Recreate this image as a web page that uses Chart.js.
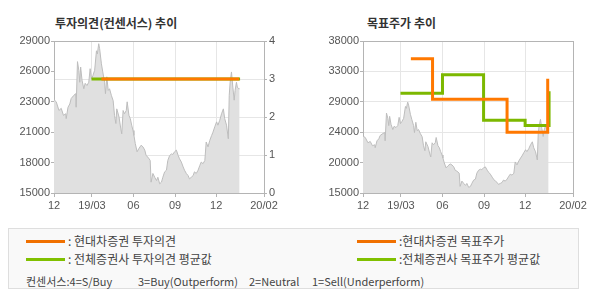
<!DOCTYPE html>
<html>
<head>
<meta charset="utf-8">
<script src="https://cdn.jsdelivr.net/npm/chart.js@4.4.0/dist/chart.umd.min.js"></script>
<style>
    body { margin: 0; width: 590px; height: 300px; position: relative; overflow: hidden; background: #fff;
           font-family: "Noto Sans CJK KR", "Liberation Sans", sans-serif; }
    .title { position: absolute; top: 14px; font-size: 12px; font-weight: bold; color: #333; }
    canvas { position: absolute; top: 28px; }
    #legendBox { position: absolute; left: 8px; top: 228px; width: 569px; height: 59px;
                 border: 1px solid #dedede; background: #f9f9f9; }
    .item { position: absolute; font-size: 12px; color: #444; line-height: 14px; white-space: pre; }
    .note { position: absolute; top: 45px; font-size: 11px; color: #444; line-height: 14px; white-space: pre; }
    .swatch { position: absolute; width: 39px; height: 3px; }
</style>
</head>
<body>

<div class="title" style="left:55px">투자의견(컨센서스) 추이</div>
<div class="title" style="left:367px">목표주가 추이</div>

<canvas id="opinionChart" width="295" height="190" style="left:0"></canvas>
<canvas id="targetChart" width="295" height="190" style="left:295px"></canvas>

<div id="legendBox">
    <div class="swatch" style="left:17px;top:11px;background:#f07000"></div>
    <div class="item" style="left:59px;top:5px">: 현대차증권 투자의견</div>
    <div class="swatch" style="left:17px;top:29px;background:#80c000"></div>
    <div class="item" style="left:59px;top:23px">: 전체증권사 투자의견 평균값</div>
    <div class="swatch" style="left:348px;top:11px;background:#f07000"></div>
    <div class="item" style="left:390px;top:5px">:현대차증권 목표주가</div>
    <div class="swatch" style="left:348px;top:29px;background:#80c000"></div>
    <div class="item" style="left:390px;top:23px">:전체증권사 목표주가 평균값</div>
    <div class="note" style="left:17px">컨센서스:4=S/Buy</div>
    <div class="note" style="left:129px">3=Buy(Outperform)</div>
    <div class="note" style="left:240px">2=Neutral</div>
    <div class="note" style="left:303px">1=Sell(Underperform)</div>
</div>

<script>
// ========================================
// Data (x = days since 2018-12-07)
// ========================================
const xTickDays = [0, 84, 176, 268, 359, 465];
const xTickLabels = ['12', '19/03', '06', '09', '12', '20/02'];

const priceDays = [0, 5, 11, 16, 21, 26, 27, 31, 35, 38, 44, 48, 49, 52, 55, 57, 59, 62, 66, 69,
    73, 77, 80, 83, 86, 90, 94, 96, 99, 101, 105, 108, 112, 114, 117, 120, 123, 127, 131, 134,
    137, 139, 144, 148, 150, 153, 156, 160, 162, 166, 169, 172, 175, 177, 180, 184, 188, 193, 197, 201,
    204, 208, 213, 215, 219, 223, 227, 230, 234, 238, 241, 245, 249, 252, 256, 260, 263, 267, 271, 275,
    278, 282, 286, 289, 293, 297, 300, 304, 308, 311, 315, 319, 323, 326, 330, 334, 337, 341, 345, 349,
    352, 356, 360, 363, 367, 371, 375, 378, 382, 386, 388, 390, 393, 396, 399, 401, 404, 406, 409, 411];
const priceValues = [23600, 23400, 22600, 22800, 22150, 22300, 21850, 22900, 23200, 23700, 24000, 24150, 22900, 27100, 26300, 25200, 26600, 25400, 24600, 25100,
    24900, 25200, 26450, 25500, 25800, 26300, 28100, 27800, 28750, 28300, 26900, 26150, 25200, 24150, 25700, 24450, 24600, 24000, 23500, 22150,
    21400, 22750, 22000, 20900, 20450, 22600, 22300, 22600, 23400, 22150, 21850, 21250, 20750, 20300, 19550, 18800, 19100, 19400, 19250, 18950,
    18450, 18300, 18000, 16000, 16800, 16450, 16150, 16450, 15850, 16000, 16450, 16950, 17100, 18000, 18450, 18600, 18550, 18800, 18950, 18450,
    18150, 17850, 17400, 17100, 16800, 16600, 16300, 16450, 16600, 16950, 16800, 17100, 17550, 17850, 17700, 18000, 19700, 19250, 19850, 20300,
    20600, 21100, 21550, 21250, 21700, 22300, 22750, 21850, 21250, 20000, 24000, 25200, 26150, 24750, 23550, 24450, 25200, 24750, 24600, 24600];

// investment opinion (consensus scale 0-4)
const opinionDays = [105, 410];
const opinionValues = [3, 3];
const avgOpinionDays = [83, 412];
const avgOpinionValues = [3, 3];

// target price steps
const targetDays = [106, 154, 319, 409];
const targetValues = [35300, 29200, 24200, 32300];
const avgTargetDays = [83, 176, 267, 359, 412];
const avgTargetValues = [30100, 32900, 26000, 25200, 30400];

const ORANGE = '#ff7800';
const GREEN = '#7cb800';
const GRID = '#e6e6e6';
const EDGE = '#b4b4b4';
const LABEL = '#555';

const TICK_FONT = { family: '"Liberation Sans", Arial, sans-serif', size: 11 };

// ========================================
// Helpers
// ========================================
const toPoints = (xs, ys) => xs.map((x, i) => ({ x: x, y: ys[i] }));

const roundThousand = v => String(Math.round(v / 1000) * 1000);

function xAxis() {
    return {
        type: 'linear',
        min: xTickDays[0],
        max: xTickDays[xTickDays.length - 1],
        afterBuildTicks: function(scale) {
            scale.ticks = xTickDays.map(v => ({ value: v }));
        },
        afterFit: function(scale) { scale.height = 25; },
        ticks: {
            autoSkip: false,
            maxRotation: 0,
            padding: 2,
            color: LABEL,
            font: TICK_FONT,
            callback: function(value) {
                return xTickLabels[xTickDays.indexOf(value)];
            }
        },
        grid: {
            color: ctx => (ctx.index === 0 || ctx.index === xTickDays.length - 1) ? EDGE : GRID,
            tickColor: EDGE,
            tickLength: 4
        },
        border: { color: EDGE }
    };
}

function priceDataset(axisId) {
    return {
        data: toPoints(priceDays, priceValues),
        yAxisID: axisId,
        borderColor: '#bdbdbd',
        borderWidth: 1,
        backgroundColor: '#e0e0e0',
        fill: 'start',
        pointRadius: 0,
        tension: 0
    };
}

function stepLine(xs, ys, color, axisId, stepped) {
    return {
        data: toPoints(xs, ys),
        yAxisID: axisId,
        borderColor: color,
        borderWidth: 3,
        fill: false,
        pointRadius: 0,
        stepped: stepped || false
    };
}

const baseOptions = {
    responsive: false,
    animation: false,
    events: [],
    plugins: { legend: { display: false }, tooltip: { enabled: false } }
};

// ========================================
// Left: investment opinion chart
// ========================================
new Chart(document.getElementById('opinionChart'), {
    type: 'line',
    data: {
        datasets: [
            stepLine(opinionDays, opinionValues, ORANGE, 'y1'),
            stepLine(avgOpinionDays, avgOpinionValues, GREEN, 'y1'),
            priceDataset('y')
        ]
    },
    options: Object.assign({}, baseOptions, {
        layout: { padding: { top: 13 } },
        scales: {
            x: xAxis(),
            y: {
                position: 'left',
                min: 15000,
                max: 29000,
                afterFit: function(scale) { scale.width = 54; },
                ticks: { stepSize: 2800, padding: 1, color: LABEL, font: TICK_FONT, callback: roundThousand },
                grid: { drawOnChartArea: false, tickColor: EDGE, tickLength: 3 },
                border: { color: EDGE }
            },
            y1: {
                position: 'right',
                min: 0,
                max: 4,
                afterFit: function(scale) { scale.width = 31; },
                ticks: { stepSize: 1, padding: 2, color: LABEL, font: TICK_FONT },
                grid: {
                    color: ctx => (ctx.tick && ctx.tick.value === 4) ? EDGE : GRID,
                    tickColor: EDGE,
                    tickLength: 3
                },
                border: { color: EDGE }
            }
        }
    })
});

// ========================================
// Right: target price chart
// ========================================
new Chart(document.getElementById('targetChart'), {
    type: 'line',
    data: {
        datasets: [
            stepLine(targetDays, targetValues, ORANGE, 'y', 'before'),
            stepLine(avgTargetDays, avgTargetValues, GREEN, 'y', 'before'),
            priceDataset('y')
        ]
    },
    options: Object.assign({}, baseOptions, {
        layout: { padding: { top: 13, right: 17 } },
        scales: {
            x: xAxis(),
            y: {
                position: 'left',
                min: 15000,
                max: 38000,
                afterFit: function(scale) { scale.width = 68; },
                ticks: { stepSize: 4600, padding: 1, color: LABEL, font: TICK_FONT, callback: roundThousand },
                grid: {
                    color: ctx => (ctx.tick && ctx.tick.value === 38000) ? EDGE : GRID,
                    tickColor: EDGE,
                    tickLength: 3
                },
                border: { color: EDGE }
            }
        }
    })
});
</script>
</body>
</html>
